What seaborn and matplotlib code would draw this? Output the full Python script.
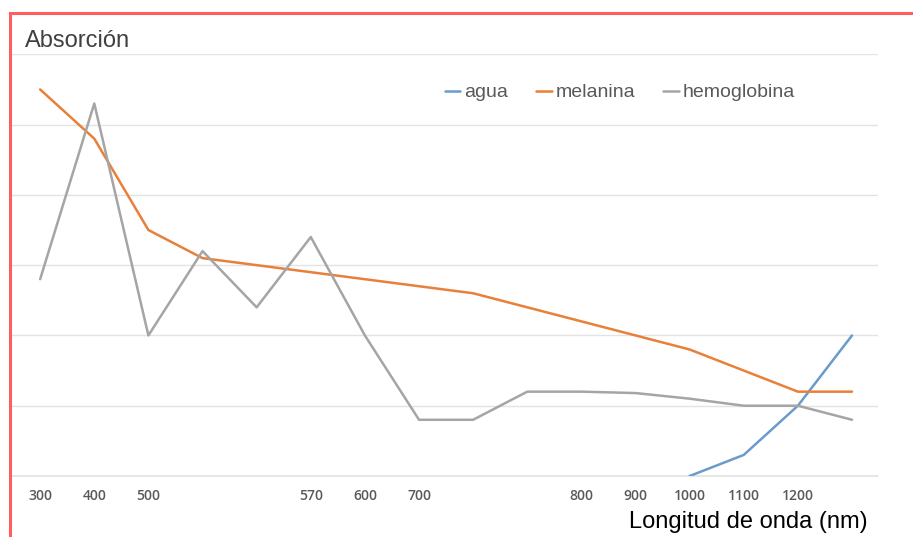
import numpy as np
import pandas as pd
import matplotlib
matplotlib.use("Agg")
import matplotlib.pyplot as plt
import seaborn as sns
from matplotlib.patches import Rectangle

# Data (categorical wavelength axis, 16 positions)
tick_labels = ["300", "400", "500", "", "", "570", "600", "700", "", "",
               "800", "900", "1000", "1100", "1200", ""]
agua = [np.nan] * 12 + [0.0, 0.3, 1.0, 2.0]
melanina = [5.5, 4.8, 3.5, 3.1, 3.0, 2.9, 2.8, 2.7, 2.6, 2.4, 2.2, 2.0, 1.8, 1.5, 1.2, 1.2]
hemoglobina = [2.8, 5.3, 2.0, 3.2, 2.4, 3.4, 2.0, 0.8, 0.8, 1.2, 1.2, 1.18, 1.1, 1.0, 1.0, 0.8]
series_names = ["agua", "melanina", "hemoglobina"]
colors = ["#6A9BCB", "#E8803A", "#A5A5A5"]

pos = list(range(len(tick_labels)))
df = pd.concat([
    pd.DataFrame({"pos": pos, "valor": vals, "serie": name})
    for name, vals in zip(series_names, [agua, melanina, hemoglobina])
], ignore_index=True)

sns.set_theme(style="white")
plt.rcParams["font.family"] = ["Liberation Sans", "DejaVu Sans"]

fig = plt.figure(figsize=(9.13, 5.37), dpi=100)
ax = fig.add_axes([12/913, 1-476/537, (878-12)/913, (476-54.3)/537])

sns.lineplot(data=df, x="pos", y="valor", hue="serie", hue_order=series_names,
             palette=colors, linewidth=1.8, ax=ax, legend=True)

ax.set_xlim(-0.52, 15.48)
ax.set_ylim(0, 6)
ax.set_yticks(range(0, 7))
ax.set_yticklabels([])
ax.tick_params(axis="y", length=0)
ax.grid(axis="y", color="#E3E3E3", linewidth=1.0)
ax.grid(axis="x", visible=False)
ax.axhline(0, color="#E3E3E3", linewidth=1.2, clip_on=False, zorder=0)
ax.set_axisbelow(True)
for s in ax.spines.values():
    s.set_visible(False)

ax.set_xticks(pos)
ax.set_xticklabels(tick_labels, fontsize=10, fontweight="semibold", color="#595959",
                   family=["Open Sans", "DejaVu Sans"])
ax.tick_params(axis="x", length=0, pad=9)
ax.set_xlabel("")
ax.set_ylabel("")

leg = ax.legend(loc="center", bbox_to_anchor=(0.702, 0.909), ncol=3, frameon=False,
                handlelength=0.8, handletextpad=0.2, columnspacing=1.45,
                prop={"size": 14})
for t in leg.get_texts():
    t.set_color("#595959")
for h in leg.get_lines():
    h.set_linewidth(1.8)

fig.text(25/913, 1-41/537, "Absorción", fontsize=17, color="#404040",
         ha="left", va="center")
fig.text(868/913, 1-522/537, "Longitud de onda (nm)", fontsize=17, color="#000000",
         ha="right", va="center")

# red frame around the chart
fig.patches.append(Rectangle((10/913, -0.05), 1.1, 1-13/537+0.05, transform=fig.transFigure,
                             fill=False, edgecolor="#FF5E5E", linewidth=2.2, zorder=10))

fig.savefig("out.png", dpi=100, facecolor="white")
